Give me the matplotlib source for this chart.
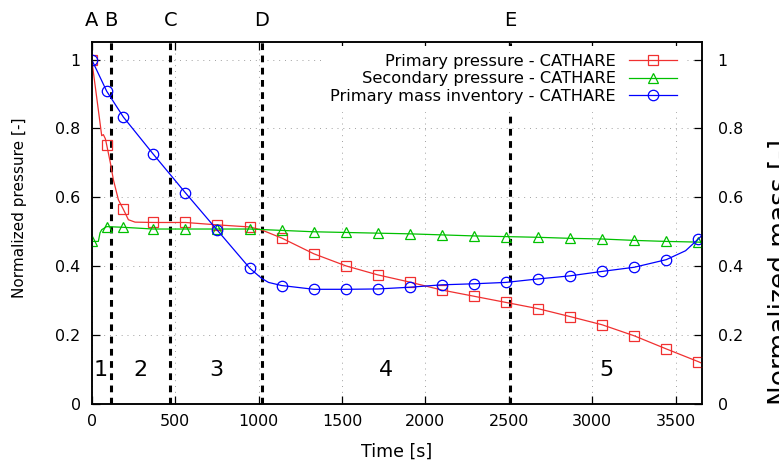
import numpy as np
import matplotlib.pyplot as plt

# times at which the gnuplot curves carry a marker
marker_times = [0, 90, 190, 368, 562, 754, 948, 1138, 1332, 1524, 1714, 1906,
                2098, 2290, 2482, 2674, 2866, 3060, 3252, 3444, 3636]

# Primary pressure - CATHARE
t_pp = [0, 30, 60, 70, 82, 90, 112, 130, 160, 190, 220, 260, 368, 562, 754, 948,
        1020, 1138, 1332, 1524, 1714, 1906, 2098, 2290, 2482, 2674, 2866, 3060,
        3252, 3444, 3636, 3660]
pp = [1.0, 0.89, 0.779, 0.782, 0.77, 0.752, 0.70, 0.651, 0.593, 0.565, 0.535, 0.528,
      0.527, 0.527, 0.520, 0.514, 0.505, 0.482, 0.436, 0.401, 0.375, 0.354, 0.331,
      0.313, 0.295, 0.277, 0.254, 0.230, 0.198, 0.160, 0.123, 0.118]

# Secondary pressure - CATHARE
t_sp = [0, 40, 50, 60, 90, 190, 368, 562, 754, 948, 1138, 1332, 1524, 1714, 1906,
        2098, 2290, 2482, 2674, 2866, 3060, 3252, 3444, 3636, 3660]
sp = [0.472, 0.472, 0.497, 0.506, 0.515, 0.513, 0.508, 0.508, 0.508, 0.508, 0.504,
      0.500, 0.498, 0.496, 0.494, 0.491, 0.488, 0.486, 0.484, 0.481, 0.479, 0.475,
      0.472, 0.470, 0.469]

# Primary mass inventory - CATHARE
t_mi = [0, 90, 190, 368, 562, 754, 948, 1018, 1060, 1138, 1332, 1524, 1714, 1906,
        2098, 2290, 2482, 2674, 2866, 3060, 3252, 3444, 3560, 3636, 3660]
mi = [1.0, 0.908, 0.833, 0.726, 0.613, 0.504, 0.394, 0.365, 0.353, 0.344, 0.333,
      0.333, 0.334, 0.339, 0.346, 0.349, 0.353, 0.363, 0.372, 0.385, 0.397, 0.419,
      0.445, 0.479, 0.49]

# phase boundaries and labels
event_names = ['A', 'B', 'C', 'D', 'E']
event_times = [0, 116, 472, 1018, 2508]
phase_names = ['1', '2', '3', '4', '5']
phase_times = [56, 290, 748, 1762, 3085]

x_ticks = [0, 500, 1000, 1500, 2000, 2500, 3000, 3500]
y_ticks = [0, 0.2, 0.4, 0.6, 0.8, 1]
y_ticklabels = ['0', '0.2', '0.4', '0.6', '0.8', '1']


def marker_idx(t):
    return [i for i, v in enumerate(t) if v in marker_times]


fig = plt.figure(figsize=(7.79, 4.63), dpi=100)
ax = fig.add_axes([0.1177, 0.1274, 0.7838, 0.7812])

red = '#f03030'
green = '#00c000'
blue = '#0000ff'

ax.plot(t_pp, pp, color=red, lw=0.9, marker='s', ms=7, mfc='none', mec=red, mew=0.9,
        markevery=marker_idx(t_pp), label='Primary pressure - CATHARE', zorder=3)
ax.plot(t_sp, sp, color=green, lw=0.9, marker='^', ms=7, mfc='none', mec=green, mew=0.9,
        markevery=marker_idx(t_sp), label='Secondary pressure - CATHARE', zorder=3)
ax.plot(t_mi, mi, color=blue, lw=0.9, marker='o', ms=7.5, mfc='none', mec=blue, mew=0.9,
        markevery=marker_idx(t_mi), label='Primary mass inventory - CATHARE', zorder=3)

for t in event_times[1:]:
    ax.axvline(t, color='black', lw=2.2, linestyle=(0, (2.2, 1.8)), zorder=2)

for name, t in zip(event_names, event_times):
    ax.text(t, 1.114, name, ha='center', va='center', fontsize=14, clip_on=False)
for name, t in zip(phase_names, phase_times):
    ax.text(t, 0.1, name, ha='center', va='center', fontsize=16)

ax.set_xlim(0, 3660)
ax.set_ylim(0, 1.05)
ax.set_xticks(x_ticks)
ax.set_yticks(y_ticks)
ax.set_yticklabels(y_ticklabels)
ax.grid(True, color='#a0a0a0', lw=0.7, linestyle=(0, (1, 5)))
ax.tick_params(direction='in', length=6, width=0.9, top=True, labelsize=11.4)
ax.tick_params(axis='y', pad=8)
ax.tick_params(axis='x', pad=7)
for s in ax.spines.values():
    s.set_linewidth(1.1)

ax.set_xlabel('Time [s]', fontsize=12.5)
ax.set_ylabel('Normalized pressure [-]', fontsize=11)
ax.xaxis.set_label_coords(0.5, -0.108)
ax.yaxis.set_label_coords(-0.106, 0.543)

leg = ax.legend(loc='upper right', bbox_to_anchor=(0.9717, 0.991), fontsize=11.7,
                markerfirst=False, frameon=True, fancybox=False, framealpha=1,
                edgecolor='none', facecolor='white', handlelength=2.95,
                handletextpad=0.8, labelspacing=0.16, borderpad=0.5,
                borderaxespad=0)
leg.set_zorder(5)

ax2 = ax.twinx()
ax2.set_ylim(0, 1.05)
ax2.set_yticks(y_ticks)
ax2.set_yticklabels(y_ticklabels)
ax2.tick_params(direction='in', length=6, width=0.9, labelsize=11.4, pad=11)
ax2.set_ylabel('Normalized mass [-]', fontsize=19)
ax2.yaxis.set_label_coords(1.108, 0.365)
for s in ax2.spines.values():
    s.set_linewidth(1.1)

fig.savefig('out.png', dpi=100)
